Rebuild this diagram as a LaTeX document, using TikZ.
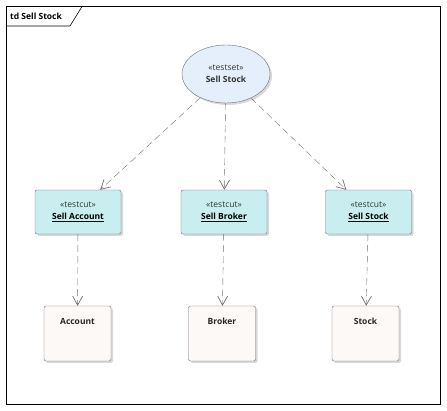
\documentclass[tikz,border=0pt]{standalone}
\usepackage{fontspec}
\setmainfont{Open Sans}
\usetikzlibrary{arrows.meta,shadows,shapes.geometric}
\definecolor{setfill}{HTML}{E4EFFB}
\definecolor{cutfill}{HTML}{C8EEF0}
\definecolor{objfill}{HTML}{FDF9F6}
\definecolor{edge}{HTML}{6E6E6E}
\begin{document}
\begin{tikzpicture}[x=1pt,y=-1pt,
  shad/.style={drop shadow={shadow xshift=2pt,shadow yshift=-2pt,fill=black!25,opacity=0.6}},
  setnode/.style={ellipse,draw=edge,fill=setfill,minimum width=88pt,minimum height=58pt,inner sep=0pt,shad,align=center,font=\fontsize{8.5}{13}\selectfont},
  cutnode/.style={rectangle,rounded corners=2pt,draw=edge,fill=cutfill,minimum width=86pt,minimum height=44pt,shad,align=center,font=\fontsize{8.5}{13}\selectfont},
  objnode/.style={rectangle,rounded corners=2pt,draw=edge,fill=objfill,minimum width=67pt,minimum height=55pt,shad},
  objlabel/.style={font=\fontsize{8.5}{10}\selectfont\bfseries,text=black!85},
  dep/.style={draw=edge,dash pattern=on 7pt off 4pt,-{Straight Barb[length=9pt,width=10pt,line width=0.7pt]}}
]
\useasboundingbox (0,0) rectangle (447,411);
\draw[black,line width=0.6pt] (6.5,6.5) rectangle (440.5,404.5);
\draw[black,line width=0.6pt] (6.5,26) -- (70,26) -- (82,6.5);
\node[anchor=west,inner sep=0pt,font=\fontsize{8.5}{10}\selectfont\bfseries] (title) at (10,16) {td Sell Stock};

\node[setnode] (set) at (226,74) {\textcolor{black!80}{«testset»}\\[-1pt]\textbf{\textcolor{black!80}{Sell Stock}}};

\node[cutnode] (ca) at (78,212) {\textcolor{black!80}{«testcut»}\\[-1pt]\textbf{\underline{Sell Account}}};
\node[cutnode] (cb) at (224,212) {\textcolor{black!80}{«testcut»}\\[-1pt]\textbf{\underline{Sell Broker}}};
\node[cutnode] (cs) at (368.5,212) {\textcolor{black!80}{«testcut»}\\[-1pt]\textbf{\underline{Sell Stock}}};

\node[objnode] (oa) at (77.5,333.5) {};
\node[objlabel] at ([yshift=-16pt]oa.north) {Account};
\node[objnode] (ob) at (222,333.5) {};
\node[objlabel] at ([yshift=-16pt]ob.north) {Broker};
\node[objnode] (os) at (365.5,333.5) {};
\node[objlabel] at ([yshift=-16pt]os.north) {Stock};

\coordinate (caend) at ([xshift=-21pt]ca.north east);
\coordinate (csend) at ([xshift=21pt]cs.north west);
\draw[dep] (set) -- (caend);
\draw[dep] (set) -- (cb);
\draw[dep] (set) -- (csend);
\draw[dep] (ca) -- (oa);
\draw[dep] (cb) -- (ob);
\draw[dep] (cs) -- (os);
\end{tikzpicture}
\end{document}
